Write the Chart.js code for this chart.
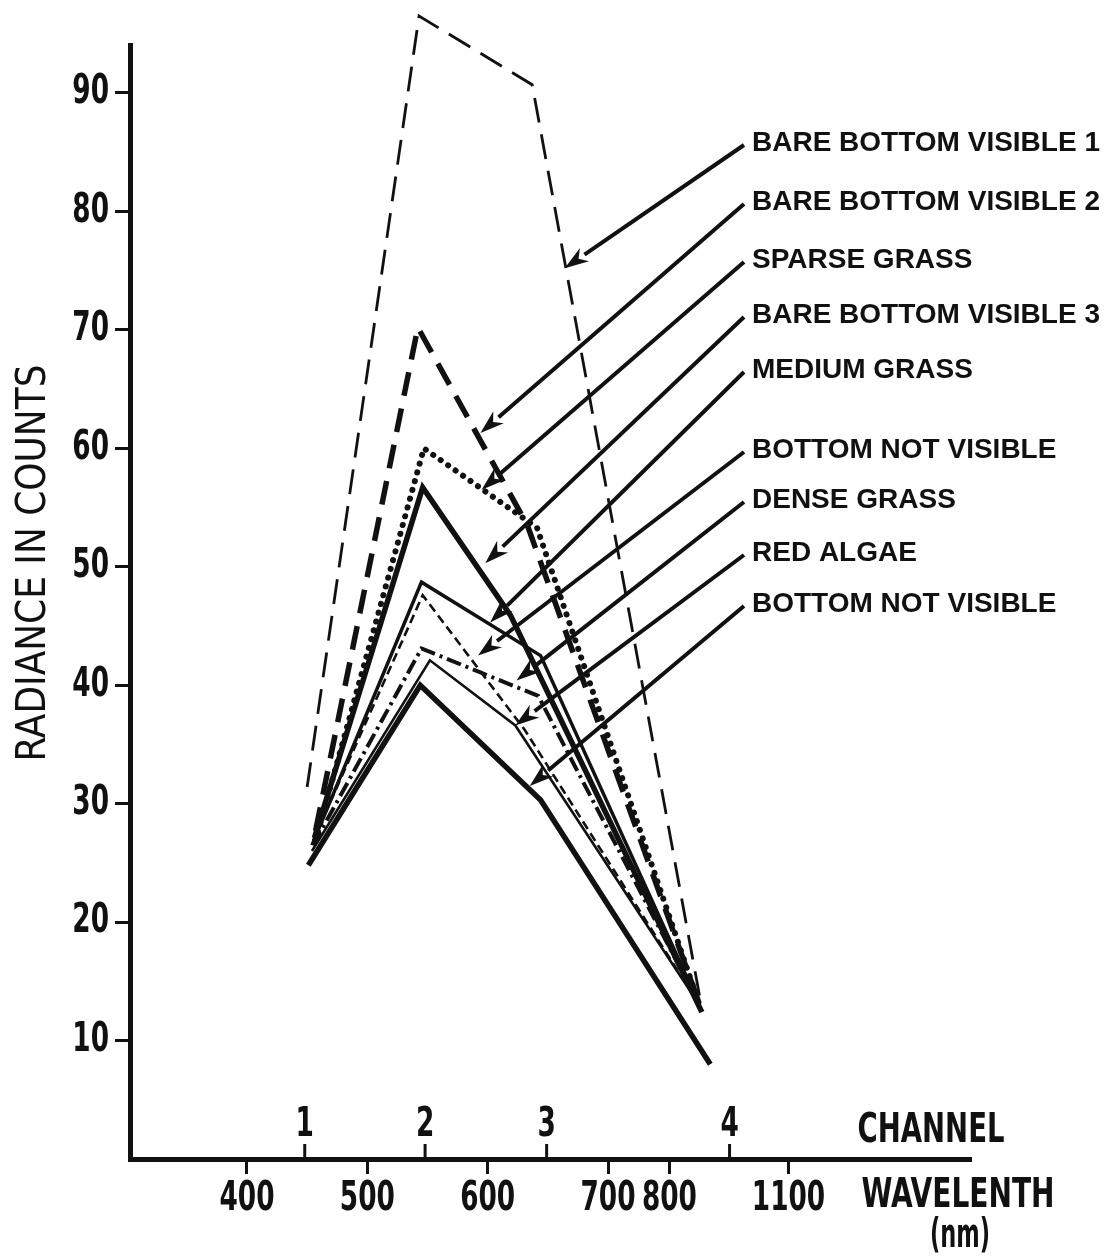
<!DOCTYPE html>
<html><head><meta charset="utf-8">
<script src="https://cdn.jsdelivr.net/npm/chart.js@4/dist/chart.umd.min.js"></script>
<style>html,body{margin:0;padding:0;background:#fff}canvas{display:block}</style>
</head><body>
<canvas id="c" width="1108" height="1256"></canvas>
<script>
// ---- data (x = position on the wavelength scale, y = radiance in counts) ----
const seriesNames = ['BARE BOTTOM VISIBLE 1','BARE BOTTOM VISIBLE 2','SPARSE GRASS','BARE BOTTOM VISIBLE 3','MEDIUM GRASS','BOTTOM NOT VISIBLE','DENSE GRASS','RED ALGAE','BOTTOM NOT VISIBLE'];
const bareBottom1 = [[450,31.4],[543,96.5],[637,90.7],[776,13.8]];
const bareBottom2 = [[457,27.7],[542,70.2],[633,53.5],[778,12.5]];
const sparseGrass = [[459,27.6],[547,60.0],[641,53.3],[776,13.0]];
const bareBottom3 = [[456,27.1],[546,56.7],[619,45.9],[778,12.4]];
const mediumGrass = [[454,26.5],[545,48.7],[644,42.5],[776,13.0]];
const bottomNotVisibleA = [[455,26.9],[546,47.6],[631,36.2],[776,13.0]];
const denseGrass = [[455,26.5],[545,43.1],[642,39.1],[776,13.0]];
const redAlgae = [[454,26.0],[552,42.1],[623,36.6],[776,13.0]];
const bottomNotVisibleB = [[451,24.8],[544,40.0],[644,30.3],[785,8.0]];
// arrow tips (data units), one per series label
const arrowTips = [[664,75.2],[594,61.3],[595,56.5],[598,50.3],[602,45.3],[592,42.5],[624,40.4],[623,36.6],[635,31.5]];
const channelLabels = ['1','2','3','4'];
const channelPos = [448,548,649,801];
const wavelengthLabels = ['400','500','600','700','800','1100'];
const wavelengthPos = [400,500,600,700,751,850];
const yTicks = [10,20,30,40,50,60,70,80,90];

const allSeries = [bareBottom1,bareBottom2,sparseGrass,bareBottom3,mediumGrass,bottomNotVisibleA,denseGrass,redAlgae,bottomNotVisibleB];
const styles = [
  {w:2.8, dash:[25,12], cap:'butt'},
  {w:5.5, dash:[24,13], cap:'butt'},
  {w:6, dash:[0.1,9], cap:'round'},
  {w:5.5, dash:[], cap:'butt'},
  {w:3.5, dash:[], cap:'butt'},
  {w:2.6, dash:[9,5], cap:'butt'},
  {w:4, dash:[15,5,3,5], cap:'butt'},
  {w:2.6, dash:[], cap:'butt'},
  {w:5.5, dash:[], cap:'butt'}
];
const NARROW = "'Liberation Sans Narrow','DejaVu Sans Condensed','Arial Narrow',sans-serif";
const INK = '#111';

const datasets = allSeries.map((s,i)=>({
  label: seriesNames[i],
  data: s.map(([x,y])=>({x,y})),
  borderColor: INK, borderWidth: styles[i].w, borderDash: styles[i].dash,
  borderCapStyle: styles[i].cap, borderJoinStyle: 'miter',
  pointRadius: 0, fill: false, tension: 0, clip: false
}));

function fitText(ctx, text, x, y, targetW){
  const w = ctx.measureText(text).width;
  ctx.save(); ctx.translate(x,y); ctx.scale(targetW/w,1); ctx.fillText(text,0,0); ctx.restore();
}
function scaledText(ctx, text, x, y, f){
  ctx.save(); ctx.translate(x,y); ctx.scale(f,1); ctx.fillText(text,0,0); ctx.restore();
}

const decor = {
  id:'decor',
  afterDraw(chart){
    const ctx = chart.ctx, xs = chart.scales.x, ys = chart.scales.y;
    const base = chart.chartArea.bottom;
    ctx.save();
    ctx.fillStyle = INK; ctx.strokeStyle = INK;
    ctx.font = 'bold 40px ' + NARROW;
    const f = 55 / ctx.measureText('400').width;
    // y tick labels
    ctx.textAlign='right'; ctx.textBaseline='middle';
    yTicks.forEach(v=>{ scaledText(ctx, String(v), 109, ys.getPixelForValue(v), f); });
    // wavelength labels
    ctx.textAlign='center';
    wavelengthPos.forEach((p,i)=>{ scaledText(ctx, wavelengthLabels[i], xs.getPixelForValue(p), 1200, f); });
    // channel ticks and labels above the axis
    ctx.lineWidth = 3;
    channelPos.forEach((p,i)=>{
      const px = xs.getPixelForValue(p);
      ctx.beginPath(); ctx.moveTo(px, base); ctx.lineTo(px, base-15); ctx.stroke();
      scaledText(ctx, channelLabels[i], px, 1126, f);
    });
    fitText(ctx,'CHANNEL',931,1132,147);
    fitText(ctx,'WAVELENTH',958,1197,193);
    fitText(ctx,'(nm)',960,1237,60);
    // y axis title
    ctx.save(); ctx.translate(35,563); ctx.rotate(-Math.PI/2);
    ctx.font = '40px ' + NARROW; ctx.textAlign='center';
    fitText(ctx,'RADIANCE IN COUNTS',0,0,397);
    ctx.restore();
    // labels with arrows
    const labelY = [143,202,260,315,370,450,500,553,604];
    ctx.font = "bold 28px 'Liberation Sans', Arial, sans-serif";
    ctx.textAlign='left'; ctx.textBaseline='middle';
    seriesNames.forEach((n,i)=>{
      ctx.fillText(n, 752, labelY[i]);
      const sx = 744, sy = labelY[i]+2;
      const tx = xs.getPixelForValue(arrowTips[i][0]), ty = ys.getPixelForValue(arrowTips[i][1]);
      const ang = Math.atan2(ty-sy, tx-sx);
      const L = 24, H = 8;
      const bx = tx - L*Math.cos(ang), by = ty - L*Math.sin(ang);
      ctx.lineWidth = 4;
      ctx.beginPath(); ctx.moveTo(sx,sy); ctx.lineTo(bx,by); ctx.stroke();
      ctx.beginPath();
      ctx.moveTo(tx,ty);
      ctx.lineTo(bx + H*Math.sin(ang), by - H*Math.cos(ang));
      ctx.lineTo(tx - 0.7*L*Math.cos(ang), ty - 0.7*L*Math.sin(ang));
      ctx.lineTo(bx - H*Math.sin(ang), by + H*Math.cos(ang));
      ctx.closePath(); ctx.fill();
    });
    ctx.restore();
  }
};

new Chart(document.getElementById('c'), {
  type:'line',
  data:{datasets},
  options:{
    responsive:false, animation:false, devicePixelRatio:1,
    layout:{padding:{top:45,right:138,left:0,bottom:0}},
    plugins:{legend:{display:false}, tooltip:{enabled:false}},
    scales:{
      x:{type:'linear', min:302.8, max:1000.8, position:'bottom',
        border:{display:true,color:INK,width:5},
        grid:{drawOnChartArea:false,drawTicks:true,tickLength:15,color:INK,lineWidth:3},
        ticks:{autoSkip:false,maxRotation:0,color:'rgba(0,0,0,0)',padding:6,font:{family:NARROW,size:40},
          callback:(v,i)=>wavelengthLabels[i]},
        afterBuildTicks:s=>{s.ticks = wavelengthPos.map(v=>({value:v}));},
        afterFit:s=>{s.height = 97;}
      },
      y:{type:'linear', min:0, max:94.05,
        border:{display:true,color:INK,width:5},
        grid:{drawOnChartArea:false,drawTicks:true,tickLength:15,color:INK,lineWidth:3},
        ticks:{color:'rgba(0,0,0,0)',padding:7,font:{family:NARROW,size:40},callback:(v,i)=>String(yTicks[i])},
        afterBuildTicks:s=>{s.ticks = yTicks.map(v=>({value:v}));},
        afterFit:s=>{s.width = 130;}
      }
    }
  },
  plugins:[decor]
});
</script>
</body></html>
